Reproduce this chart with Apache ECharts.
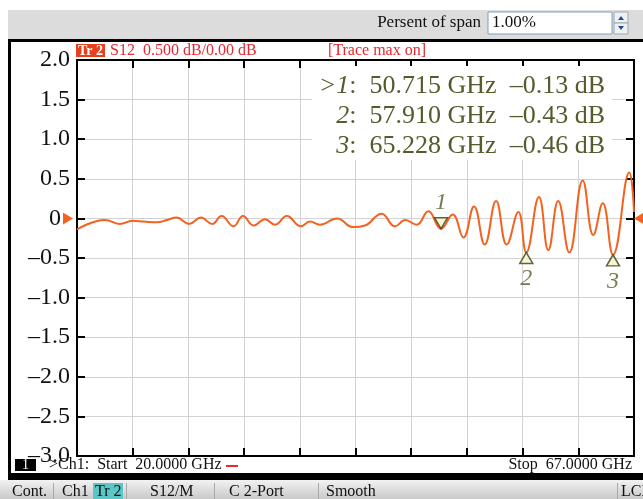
<!DOCTYPE html>
<html><head><meta charset="utf-8">
<script src="https://cdn.jsdelivr.net/npm/echarts@6/dist/echarts.min.js"></script>
<style>html,body{margin:0;padding:0;background:#fff;}#c{width:643px;height:499px;}</style>
</head><body><div id="c"></div>
<script>
// ---- data ----
const freqGHz = [20.0, 22.36, 23.6, 24.7, 25.6, 26.75, 27.6, 28.4, 29.45, 30.46, 31.4, 32.2, 33.2, 34.0, 34.9,
  35.86, 36.7, 37.7, 38.9, 39.66, 40.5, 41.94, 43.3, 44.3, 45.7, 46.83, 47.7, 48.66, 49.64, 50.715,
  51.7, 52.6, 53.5, 54.4, 55.36, 56.26, 57.24, 57.91, 58.98, 59.77, 60.6, 61.54, 62.67, 63.57, 64.36,
  65.228, 66.6, 67.0];
const s12dB = [-0.14, -0.02, -0.07, -0.03, -0.04, -0.05, -0.02, 0.01, -0.07, 0.01, -0.07, 0.03, -0.10, 0.03, -0.09,
  -0.01, -0.08, 0.03, -0.10, -0.04, -0.08, 0.00, -0.11, -0.09, 0.06, -0.10, -0.02, -0.08, 0.09, -0.13,
  0.05, -0.24, 0.15, -0.33, 0.22, -0.33, 0.08, -0.43, 0.27, -0.40, 0.22, -0.43, 0.48, -0.21, 0.19,
  -0.46, 0.58, 0.08];
const markerNames = ['1', '2', '3'];
const markerFreq = [50.715, 57.910, 65.228];
const markerVal = [-0.13, -0.43, -0.46];
const yTicks = [-3.0, -2.5, -2.0, -1.5, -1.0, -0.5, 0, 0.5, 1.0, 1.5, 2.0];
const startGHz = 20, stopGHz = 67;

const SERIF = '"Liberation Serif","DejaVu Serif",serif';
const OLIVE = '#575a2b';
const TRACE = '#f4621f';
const RED = '#e8272f';

const fmtDb = v => (v < 0 ? '\u2013' : '') + Math.abs(v).toFixed(2);
const fmtTick = v => v === 0 ? '{z|0}' : (v < 0 ? '\u2013' : '') + Math.abs(v).toFixed(1);

const chart = echarts.init(document.getElementById('c'), null, {renderer: 'canvas'});

const markerData = markerFreq.map((f, i) => ({
  value: [f, markerVal[i]],
  name: markerNames[i],
  symbolRotate: i === 0 ? 180 : 0,
  symbolOffset: i === 0 ? [0, -5.5] : [0, 5.5],
  label: {position: i === 0 ? 'top' : 'bottom', distance: i === 0 ? 2 : 3}
}));

const readRows = markerNames.map((n, i) =>
  (i === 0 ? '{i|>' + n + '}' : '{i|' + n + '}') + '{n|:  ' + markerFreq[i].toFixed(3) + ' GHz  ' + fmtDb(markerVal[i]) + ' dB}');

const chrome = [
  // top toolbar
  {type: 'rect', shape: {x: 8, y: 10, width: 640, height: 29}, style: {fill: '#dcdcdc'}, z: 1},
  {type: 'text', style: {x: 481, y: 23, text: 'Persent of span', font: '17px ' + SERIF, fill: '#111', textAlign: 'right', textVerticalAlign: 'middle'}, z: 2},
  {type: 'rect', shape: {x: 488, y: 12, width: 124, height: 22}, style: {fill: '#fff', stroke: '#7f9dc4', lineWidth: 1}, z: 2},
  {type: 'text', style: {x: 492, y: 23, text: '1.00%', font: '17px ' + SERIF, fill: '#111', textVerticalAlign: 'middle'}, z: 3},
  {type: 'rect', shape: {x: 614, y: 12, width: 14, height: 11}, style: {fill: '#eef0f4', stroke: '#9aa', lineWidth: 1}, z: 2},
  {type: 'rect', shape: {x: 614, y: 23, width: 14, height: 11}, style: {fill: '#eef0f4', stroke: '#9aa', lineWidth: 1}, z: 2},
  {type: 'polygon', shape: {points: [[618, 20], [624, 20], [621, 16]]}, style: {fill: '#2a4a8a'}, z: 3},
  {type: 'polygon', shape: {points: [[618, 26], [624, 26], [621, 30]]}, style: {fill: '#2a4a8a'}, z: 3},
  // black frame
  {type: 'rect', shape: {x: 8, y: 39, width: 640, height: 3}, style: {fill: '#000'}, z: 2},
  {type: 'rect', shape: {x: 8, y: 39, width: 3, height: 441}, style: {fill: '#000'}, z: 2},
  {type: 'rect', shape: {x: 8, y: 473, width: 640, height: 7}, style: {fill: '#000'}, z: 2},
  // header
  {type: 'rect', shape: {x: 76, y: 44, width: 29, height: 13}, style: {fill: '#e8401c'}, z: 2},
  {type: 'text', style: {x: 90.5, y: 51, text: 'Tr 2', font: 'bold 14px ' + SERIF, fill: '#fff', textAlign: 'center', textVerticalAlign: 'middle'}, z: 3},
  {type: 'text', style: {x: 110, y: 51, text: 'S12  0.500 dB/0.00 dB', font: '16px ' + SERIF, fill: RED, textVerticalAlign: 'middle'}, z: 3},
  {type: 'text', style: {x: 328, y: 51, text: '[Trace max on]', font: '16px ' + SERIF, fill: RED, textVerticalAlign: 'middle'}, z: 3},
  // footer inside frame
  {type: 'rect', shape: {x: 15, y: 459, width: 21, height: 12}, style: {fill: '#000'}, z: 2},
  {type: 'text', style: {x: 25.5, y: 465, text: '1', font: '14px ' + SERIF, fill: '#fff', textAlign: 'center', textVerticalAlign: 'middle'}, z: 3},
  {type: 'text', style: {x: 49, y: 465, text: '>Ch1:  Start  ' + startGHz.toFixed(4) + ' GHz', font: '16px ' + SERIF, fill: '#111', textVerticalAlign: 'middle'}, z: 3},
  {type: 'rect', shape: {x: 226, y: 465, width: 12, height: 2}, style: {fill: RED}, z: 3},
  {type: 'text', style: {x: 632, y: 465, text: 'Stop  ' + stopGHz.toFixed(4) + ' GHz', font: '16px ' + SERIF, fill: '#111', textAlign: 'right', textVerticalAlign: 'middle'}, z: 3},
  // status bar
  {type: 'rect', shape: {x: 0, y: 480, width: 643, height: 19}, style: {fill: new echarts.graphic.LinearGradient(0, 0, 0, 1, [{offset: 0, color: '#f2f2f2'}, {offset: 1, color: '#c9c9c9'}])}, z: 1},
  {type: 'rect', shape: {x: 93, y: 483, width: 30, height: 16}, style: {fill: '#5cc6c6'}, z: 2},
  ...[53, 126, 214, 318, 617].map(x => ({type: 'rect', shape: {x: x, y: 483, width: 1, height: 16}, style: {fill: '#a8a8a8'}, z: 2})),
  ...[['Cont.', 12], ['Ch1', 62], ['Tr 2', 95], ['S12/M', 150], ['C 2-Port', 229], ['Smooth', 326], ['LCL', 621]].map(([t, x]) =>
    ({type: 'text', style: {x: x, y: 492, text: t, font: '16px ' + SERIF, fill: '#111', textVerticalAlign: 'middle'}, z: 3})),
  // marker readout
  {type: 'rect', shape: {x: 312, y: 66, width: 300, height: 94}, style: {fill: '#fff'}, z: 5},
  ...readRows.map((t, i) => ({type: 'text', z: 6, style: {x: 605, y: 86 + i * 30, text: t, textAlign: 'right', textVerticalAlign: 'middle',
    rich: {i: {font: 'italic 26px ' + SERIF, fill: OLIVE}, n: {font: '26px ' + SERIF, fill: OLIVE}}}}))
];

const gridAxisCommon = {type: 'value', min: 0, max: 10, interval: 1, axisLabel: {show: false},
  axisLine: {show: true, onZero: false, lineStyle: {color: '#000', width: 2}},
  axisTick: {show: true, inside: true, length: 8, lineStyle: {color: '#000', width: 2}}};

chart.setOption({
  animation: false,
  backgroundColor: '#fff',
  grid: {left: 77, top: 60, width: 557, height: 396, containLabel: false},
  xAxis: [
    {type: 'value', min: startGHz, max: stopGHz, show: false},
    Object.assign({}, gridAxisCommon, {position: 'bottom', splitLine: {show: true, lineStyle: {color: '#d2d2d2', width: 1}}}),
    Object.assign({}, gridAxisCommon, {position: 'top', splitLine: {show: false}})
  ],
  yAxis: [
    {type: 'value', min: yTicks[0], max: yTicks[yTicks.length - 1], interval: 0.5, position: 'left',
      axisLine: {show: true, onZero: false, lineStyle: {color: '#000', width: 2}},
      axisTick: {show: true, inside: true, length: 8, lineStyle: {color: '#000', width: 2}},
      splitLine: {show: true, lineStyle: {color: '#d2d2d2', width: 1}},
      axisLabel: {margin: 7, formatter: fmtTick, fontFamily: SERIF, fontSize: 24, color: '#111',
        rich: {z: {fontFamily: SERIF, fontSize: 24, color: '#111', padding: [0, 9, 0, 0]}}}},
    {type: 'value', min: yTicks[0], max: yTicks[yTicks.length - 1], interval: 0.5, position: 'right',
      axisLine: {show: true, onZero: false, lineStyle: {color: '#000', width: 2}},
      axisTick: {show: true, inside: true, length: 8, lineStyle: {color: '#000', width: 2}},
      splitLine: {show: false}, axisLabel: {show: false}}
  ],
  graphic: chrome,
  series: [
    {type: 'line', xAxisIndex: 0, yAxisIndex: 0, data: freqGHz.map((f, i) => [f, s12dB[i]]),
      smooth: 0.45, showSymbol: false, symbol: 'none',
      lineStyle: {color: TRACE, width: 2}, z: 3},
    {type: 'scatter', xAxisIndex: 0, yAxisIndex: 0, data: markerData, symbol: 'triangle', symbolSize: [13, 11],
      itemStyle: {color: '#f6f3c8', borderColor: '#3c3c14', borderWidth: 1.5},
      label: {show: true, formatter: p => p.name, fontFamily: SERIF, fontStyle: 'italic', fontSize: 24, color: OLIVE},
      z: 4}
  ]
});

// reference-level arrows at 0 dB on both sides, located through the axes
const p0 = chart.convertToPixel({xAxisIndex: 0, yAxisIndex: 0}, [startGHz, 0]);
const p1 = chart.convertToPixel({xAxisIndex: 0, yAxisIndex: 0}, [stopGHz, 0]);
chart.setOption({graphic: chrome.concat([
  {type: 'polygon', z: 6, shape: {points: [[p0[0] - 14, p0[1] - 6], [p0[0] - 14, p0[1] + 6], [p0[0] - 4, p0[1]]]}, style: {fill: TRACE}},
  {type: 'polygon', z: 6, shape: {points: [[p1[0] + 10, p1[1] - 6], [p1[0] + 10, p1[1] + 6], [p1[0], p1[1]]]}, style: {fill: TRACE}}
])});
</script></body></html>
